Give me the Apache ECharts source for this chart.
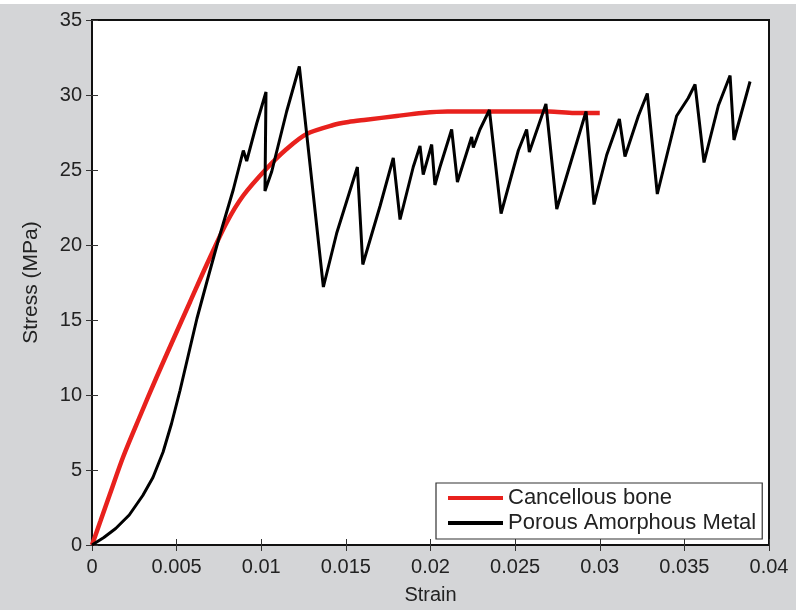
<!DOCTYPE html>
<html>
<head>
<meta charset="utf-8">
<script src="https://cdn.jsdelivr.net/npm/echarts@6/dist/echarts.min.js"></script>
<style>
  html, body { margin: 0; padding: 0; background: #ffffff; }
  #chart { position: absolute; left: 0; top: 4px; width: 796px; height: 606px; }
</style>
</head>
<body>
<div id="chart"></div>
<script>
// Cancellous bone
const boneStrain = [0, 0.0005, 0.00106, 0.00185, 0.00284, 0.00382, 0.0048, 0.00579, 0.00678, 0.00796, 0.00894, 0.01032, 0.0115, 0.01268, 0.01426, 0.01515, 0.0162, 0.018, 0.0195, 0.021, 0.0225, 0.024, 0.0255, 0.027, 0.0285, 0.030];
const boneStress = [0, 1.6, 3.4, 5.9, 8.6, 11.2, 13.7, 16.2, 18.7, 21.5, 23.3, 25.1, 26.4, 27.4, 28.0, 28.2, 28.35, 28.6, 28.8, 28.9, 28.9, 28.9, 28.9, 28.9, 28.8, 28.8];

// Porous amorphous metal
const metalStrain = [0, 0.0007, 0.0014, 0.0022, 0.003, 0.0036, 0.0042, 0.0047, 0.0052, 0.0057, 0.0062, 0.0068, 0.00746, 0.00835, 0.00894, 0.00914, 0.00973, 0.01028, 0.01022, 0.01062, 0.0115, 0.01225, 0.01367, 0.01446, 0.01568, 0.016, 0.01702, 0.0178, 0.0182, 0.01898, 0.01938, 0.01957, 0.02007, 0.02026, 0.02056, 0.02125, 0.02159, 0.02243, 0.02253, 0.02292, 0.02348, 0.02417, 0.02519, 0.02568, 0.02584, 0.02682, 0.02746, 0.02919, 0.02966, 0.03041, 0.03116, 0.03149, 0.03228, 0.03281, 0.0334, 0.03454, 0.03523, 0.03563, 0.03616, 0.03701, 0.0377, 0.03793, 0.03888];
const metalStress = [0, 0.5, 1.1, 2.0, 3.3, 4.5, 6.2, 8.1, 10.3, 12.7, 15.1, 17.6, 20.3, 23.7, 26.3, 25.6, 28.1, 30.2, 23.6, 24.9, 28.9, 31.9, 17.2, 20.8, 25.2, 18.7, 22.6, 25.8, 21.7, 25.2, 26.6, 24.7, 26.7, 24.0, 25.2, 27.7, 24.2, 27.2, 26.5, 27.7, 29.0, 22.1, 26.3, 27.7, 26.2, 29.4, 22.4, 28.9, 22.7, 26.0, 28.4, 25.9, 28.6, 30.1, 23.4, 28.6, 29.8, 30.7, 25.5, 29.3, 31.3, 27.0, 30.9];

const xTicks = { min: 0, max: 0.04, interval: 0.005 };
const yTicks = { min: 0, max: 35, interval: 5 };
const seriesNames = ['Cancellous bone', 'Porous Amorphous Metal'];

const pairs = (xs, ys) => xs.map((x, i) => [x, ys[i]]);
const font = 'Liberation Sans, Arial, Helvetica, sans-serif';
const textColor = '#222';

const chart = echarts.init(document.getElementById('chart'), null, { renderer: 'canvas' });
chart.setOption({
  animation: false,
  backgroundColor: '#d4d5d7',
  grid: {
    left: 92, right: 27, top: 16, bottom: 65,
    show: true, backgroundColor: '#ffffff', borderColor: '#111', borderWidth: 2
  },
  legend: {
    left: 436, top: 479,
    orient: 'vertical',
    data: seriesNames.map(n => ({ name: n, icon: 'rect' })),
    itemWidth: 55, itemHeight: 4, itemGap: 3,
    padding: [4, 6, 5, 12],
    backgroundColor: '#ffffff',
    borderColor: '#333', borderWidth: 1.2,
    textStyle: { fontFamily: font, fontSize: 22, color: textColor }
  },
  xAxis: [{
    type: 'value', min: xTicks.min, max: xTicks.max, interval: xTicks.interval,
    name: 'Strain', nameLocation: 'middle', nameGap: 40,
    nameTextStyle: { fontFamily: font, fontSize: 20, color: textColor },
    axisLine: { show: false },
    axisTick: { inside: true, length: 6, lineStyle: { color: '#333', width: 1 } },
    axisLabel: { fontFamily: font, fontSize: 20, color: textColor, margin: 12,
      formatter: v => String(+v.toFixed(3)) },
    splitLine: { show: false }
  }, {
    type: 'value', position: 'top', min: xTicks.min, max: xTicks.max, interval: xTicks.interval,
    axisLine: { show: false },
    axisTick: { inside: true, length: 6, lineStyle: { color: '#333', width: 1 } },
    axisLabel: { show: false }, splitLine: { show: false }
  }],
  yAxis: [{
    type: 'value', min: yTicks.min, max: yTicks.max, interval: yTicks.interval,
    name: 'Stress (MPa)', nameLocation: 'middle', nameGap: 50,
    nameTextStyle: { fontFamily: font, fontSize: 21, color: textColor },
    axisLine: { show: false },
    axisTick: { inside: true, length: 6, lineStyle: { color: '#333', width: 1 } },
    axisLabel: { fontFamily: font, fontSize: 20, color: textColor, margin: 10 },
    splitLine: { show: false }
  }, {
    type: 'value', position: 'right', min: yTicks.min, max: yTicks.max, interval: yTicks.interval,
    axisLine: { show: false },
    axisTick: { inside: true, length: 6, lineStyle: { color: '#333', width: 1 } },
    axisLabel: { show: false }, splitLine: { show: false }
  }],
  series: [{
    name: seriesNames[0], type: 'line', xAxisIndex: 0, yAxisIndex: 0,
    data: pairs(boneStrain, boneStress), symbol: 'none', smooth: 0.3,
    lineStyle: { color: '#e8211d', width: 4.5 }, itemStyle: { color: '#e8211d' }
  }, {
    name: seriesNames[1], type: 'line', xAxisIndex: 0, yAxisIndex: 0,
    data: pairs(metalStrain, metalStress), symbol: 'none',
    lineStyle: { color: '#000', width: 3 }, itemStyle: { color: '#000' }
  }]
});
</script>
</body>
</html>
